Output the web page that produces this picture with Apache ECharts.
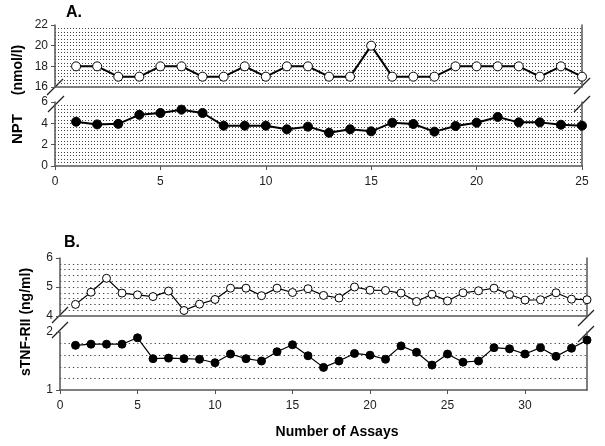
<!DOCTYPE html>
<html>
<head>
<meta charset="utf-8">
<script src="https://cdn.jsdelivr.net/npm/echarts@6/dist/echarts.min.js"></script>
</head>
<body style="margin:0">
<div id="main" style="width:605px;height:446px"></div>
<script>
// panel A: NPT (nmol/l)
var assaysA = [1,2,3,4,5,6,7,8,9,10,11,12,13,14,15,16,17,18,19,20,21,22,23,24,25];
var nptHigh = [18,18,17,17,18,18,17,17,18,17,18,18,17,17,20,17,17,17,18,18,18,18,17,18,17];
var nptLow  = [4.15,3.9,3.95,4.8,4.97,5.28,4.97,3.78,3.78,3.78,3.44,3.69,3.12,3.44,3.25,4.06,3.94,3.22,3.75,4.06,4.6,4.09,4.09,3.87,3.78];
// panel B: sTNF-RII (ng/ml)
var assaysB = [1,2,3,4,5,6,7,8,9,10,11,12,13,14,15,16,17,18,19,20,21,22,23,24,25,26,27,28,29,30,31,32,33,34];
var tnfHigh = [4.40,4.82,5.30,4.79,4.73,4.67,4.86,4.19,4.41,4.57,4.96,4.96,4.70,4.96,4.81,4.94,4.71,4.62,5.0,4.89,4.88,4.79,4.50,4.75,4.52,4.80,4.87,4.96,4.74,4.55,4.56,4.80,4.58,4.56];
var tnfLow  = [1.77,1.79,1.79,1.79,1.90,1.54,1.55,1.54,1.53,1.47,1.62,1.54,1.50,1.66,1.78,1.59,1.39,1.50,1.63,1.60,1.53,1.76,1.65,1.43,1.62,1.48,1.50,1.73,1.71,1.62,1.73,1.58,1.72,1.86];

var font = 'Liberation Sans, Arial, sans-serif';
var axisCol = '#555';

function pairs(xs, ys) {
    return xs.map(function (x, i) { return [x, ys[i]]; });
}

// grid layout: A top / A bottom / B top / B bottom
var grids = [
    {left: 55, right: 23, top: 25, height: 62},
    {left: 55, right: 23, top: 102, height: 64},
    {left: 60, right: 18, top: 258, height: 58},
    {left: 60, right: 18, top: 332, height: 58}
];

function xAx(grid, max, labels) {
    return {
        type: 'value', gridIndex: grid, min: 0, max: max, interval: 5,
        position: labels ? 'bottom' : 'top',
        axisLine: {show: true, lineStyle: {color: axisCol, width: 1.5}},
        axisTick: {show: labels, length: 4, lineStyle: {color: axisCol}},
        axisLabel: {show: labels, margin: 10, fontSize: 12, color: '#222', fontFamily: font, showMaxLabel: max % 5 === 0},
        splitLine: {show: false}
    };
}

function yAx(grid, min, max, interval, minor, dash) {
    var dots = {color: '#444', width: 1, type: dash};
    return {
        type: 'value', gridIndex: grid, min: min, max: max, interval: interval,
        axisLine: {show: true, lineStyle: {color: axisCol, width: 1.5}},
        axisTick: {show: true, length: 4, lineStyle: {color: axisCol}},
        axisLabel: {margin: 7, fontSize: 12, color: '#222', fontFamily: font},
        splitLine: {show: true, showMinLine: false, showMaxLine: false, lineStyle: dots},
        minorTick: {show: false, splitNumber: minor},
        minorSplitLine: {show: true, lineStyle: dots}
    };
}

function rightBorder(grid) {
    return {
        type: 'value', gridIndex: grid, position: 'right',
        axisLine: {show: true, lineStyle: {color: axisCol, width: 1.5}},
        axisTick: {show: false}, axisLabel: {show: false}, splitLine: {show: false}
    };
}

function lineSeries(idx, data, open, width, size) {
    return {
        type: 'line', xAxisIndex: idx, yAxisIndex: idx, data: data,
        symbol: 'circle', symbolSize: size, animation: false,
        lineStyle: {color: '#000', width: width},
        itemStyle: {color: open ? '#fff' : '#000', borderColor: '#000', borderWidth: 1}
    };
}

// axis-break slashes
function slash(x, y) {
    return {type: 'line', shape: {x1: x - 8, y1: y + 8, x2: x + 8, y2: y - 8},
        style: {stroke: '#222', lineWidth: 1.2}};
}

var chart = echarts.init(document.getElementById('main'));
chart.setOption({
    backgroundColor: '#fff',
    grid: grids,
    xAxis: [xAx(0, 25, false), xAx(1, 25, true), xAx(2, 34, false), xAx(3, 34, true)],
    yAxis: [
        yAx(0, 16, 22, 2, 6, [1, 2]),
        yAx(1, 0, 6, 2, 6, [1, 2]),
        yAx(2, 4, 6, 1, 5, [1.3, 3]),
        yAx(3, 1, 2, 1, 5, [1.3, 3]),
        rightBorder(0), rightBorder(1), rightBorder(2), rightBorder(3)
    ],
    series: [
        lineSeries(0, pairs(assaysA, nptHigh), true, 2, 9),
        lineSeries(1, pairs(assaysA, nptLow), false, 2, 9),
        lineSeries(2, pairs(assaysB, tnfHigh), true, 1.2, 8),
        lineSeries(3, pairs(assaysB, tnfLow), false, 1.2, 8)
    ],
    graphic: [
        {type: 'text', left: 66, top: 5, style: {text: 'A.', font: 'bold 16px ' + font, fill: '#000'}},
        {type: 'text', left: 64, top: 235, style: {text: 'B.', font: 'bold 16px ' + font, fill: '#000'}},
        {type: 'text', x: 18, y: 70, rotation: Math.PI / 2,
            style: {text: '(nmol/l)', font: 'bold 14px ' + font, fill: '#000', align: 'center', verticalAlign: 'middle'}},
        {type: 'text', x: 18, y: 129, rotation: Math.PI / 2,
            style: {text: 'NPT', font: 'bold 15px ' + font, fill: '#000', align: 'center', verticalAlign: 'middle'}},
        {type: 'text', x: 26, y: 322, rotation: Math.PI / 2,
            style: {text: 'sTNF-RII (ng/ml)', font: 'bold 14px ' + font, fill: '#000', align: 'center', verticalAlign: 'middle'}},
        {type: 'text', x: 337, y: 432,
            style: {text: 'Number of Assays', font: 'bold 14px ' + font, fill: '#000', align: 'center', verticalAlign: 'middle'}},
        slash(55, 87), slash(56, 104), slash(582, 86), slash(582, 104),
        slash(60, 315), slash(60, 330), slash(586, 318), slash(586, 334)
    ]
});
</script>
</body>
</html>
